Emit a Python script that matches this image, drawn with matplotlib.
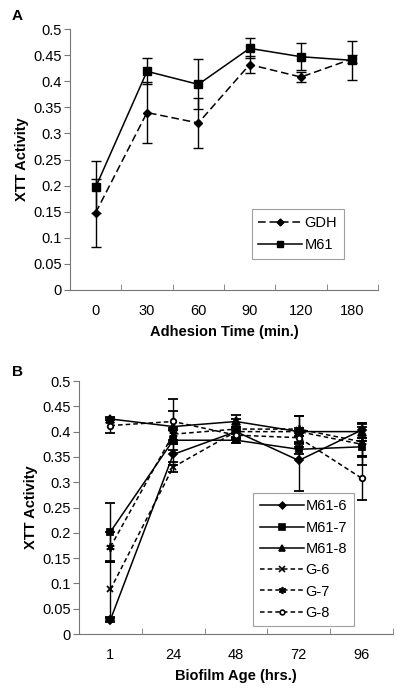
import numpy as np
import matplotlib
matplotlib.use("Agg")
import matplotlib.pyplot as plt
from matplotlib.lines import Line2D

plt.rcParams['font.family'] = ['Liberation Sans', 'DejaVu Sans']

# panel A
times_a = ['0', '30', '60', '90', '120', '180']
gdh = [0.148, 0.340, 0.320, 0.432, 0.408, 0.443]
gdh_err = [0.065, 0.058, 0.047, 0.017, 0.009, 0.008]
m61 = [0.197, 0.419, 0.394, 0.463, 0.447, 0.440]
m61_err = [0.050, 0.025, 0.048, 0.019, 0.026, 0.037]

# panel B
ages_b = ['1', '24', '48', '72', '96']
m61_6 = [0.028, 0.355, 0.400, 0.343, 0.403]
m61_6_err = [0.004, 0.020, 0.010, 0.060, 0.015]
m61_7 = [0.202, 0.383, 0.383, 0.365, 0.370]
m61_7_err = [0.057, 0.020, 0.005, 0.010, 0.018]
m61_8 = [0.425, 0.410, 0.420, 0.400, 0.400]
m61_8_err = [0.003, 0.030, 0.012, 0.031, 0.018]
g_6 = [0.088, 0.330, 0.400, 0.400, 0.375]
g_6_err = [0.055, 0.010, 0.010, 0.008, 0.040]
g_7 = [0.172, 0.395, 0.405, 0.405, 0.380]
g_7_err = [0.030, 0.012, 0.020, 0.026, 0.030]
g_8 = [0.412, 0.420, 0.393, 0.388, 0.308]
g_8_err = [0.015, 0.045, 0.010, 0.010, 0.043]

FS = 10.5
fig = plt.figure(figsize=(4, 6.92), dpi=100)

def style_axes(ax, ncat, labels, xlabel):
    ax.set_xlim(-0.5, ncat - 0.5)
    ax.set_ylim(0, 0.5)
    ax.set_yticks(np.arange(0, 0.51, 0.05))
    ax.set_yticklabels(['0', '0.05', '0.1', '0.15', '0.2', '0.25', '0.3', '0.35', '0.4', '0.45', '0.5'])
    ax.set_xticks(np.arange(ncat))
    ax.set_xticklabels(labels)
    ax.set_xticks(np.arange(ncat + 1) - 0.5, minor=True)
    ax.tick_params(axis='x', which='major', length=0, pad=10, labelsize=FS)
    ax.tick_params(axis='x', which='minor', length=4, direction='in', color='#777777')
    ax.tick_params(axis='y', length=4, direction='out', color='#777777', labelsize=FS, pad=2)
    for s in ['top', 'right']:
        ax.spines[s].set_visible(False)
    for s in ['left', 'bottom']:
        ax.spines[s].set_color('#777777')
        ax.spines[s].set_linewidth(0.8)
    ax.set_ylabel('XTT Activity', fontsize=FS, fontweight='bold', labelpad=3)
    ax.set_xlabel(xlabel, fontsize=FS, fontweight='bold', labelpad=5)

ekw = dict(ecolor='black', elinewidth=1, capsize=3.5, capthick=1)

def make_legend(ax, handles, anchor, spacing):
    leg = ax.legend(handles=handles, loc='lower right', bbox_to_anchor=anchor, fontsize=FS,
                    frameon=True, fancybox=False, edgecolor='#888888',
                    handlelength=3.0, handletextpad=0.15, borderpad=0.45,
                    labelspacing=spacing, borderaxespad=0)
    leg.get_frame().set_linewidth(0.8)
    return leg

ax1 = fig.add_axes([0.175, 0.581, 0.77, 0.377])
x = np.arange(len(times_a))
ax1.errorbar(x, gdh, yerr=gdh_err, color='black', ls=(0, (5, 2.5)), lw=1.1,
             marker='D', ms=4, **ekw)
ax1.errorbar(x, m61, yerr=m61_err, color='black', ls='-', lw=1.1,
             marker='s', ms=5.5, **ekw)
style_axes(ax1, len(times_a), times_a, 'Adhesion Time (min.)')
h1 = [Line2D([], [], color='black', ls=(0, (5, 2.5)), lw=1.1, marker='D', ms=3.5, label='GDH'),
      Line2D([], [], color='black', ls='-', lw=1.1, marker='s', ms=4.5, label='M61')]
make_legend(ax1, h1, (0.888, 0.12), 0.55)
fig.text(0.03, 0.977, 'A', fontsize=11, fontweight='bold', va='center')

ax2 = fig.add_axes([0.1975, 0.0838, 0.785, 0.3656])
x = np.arange(len(ages_b))
series = [
    (m61_6, m61_6_err, 'M61-6', '-', 'D', 4, 'black'),
    (m61_7, m61_7_err, 'M61-7', '-', 's', 5, 'black'),
    (m61_8, m61_8_err, 'M61-8', '-', '^', 5.5, 'black'),
    (g_6, g_6_err, 'G-6', (0, (3, 2)), 'x', 5, 'black'),
    (g_7, g_7_err, 'G-7', (0, (3, 2)), (6, 2, 0), 6, 'black'),
    (g_8, g_8_err, 'G-8', (0, (3, 2)), 'o', 4, 'white'),
]
h2 = []
for vals, err, lab, ls, mk, ms, fc in series:
    ax2.errorbar(x, vals, yerr=err, color='black', ls=ls, lw=1.1, marker=mk, ms=ms,
                 mfc=fc, mec='black', mew=1.3, **ekw)
    h2.append(Line2D([], [], color='black', ls=ls, lw=1.1, marker=mk, ms=ms * 0.85,
                     mfc=fc, mec='black', mew=1.2, label=lab))
style_axes(ax2, len(ages_b), ages_b, 'Biofilm Age (hrs.)')
make_legend(ax2, h2, (0.875, 0.03), 0.5)
fig.text(0.03, 0.462, 'B', fontsize=11, fontweight='bold', va='center')

fig.savefig('out.png', dpi=100)
